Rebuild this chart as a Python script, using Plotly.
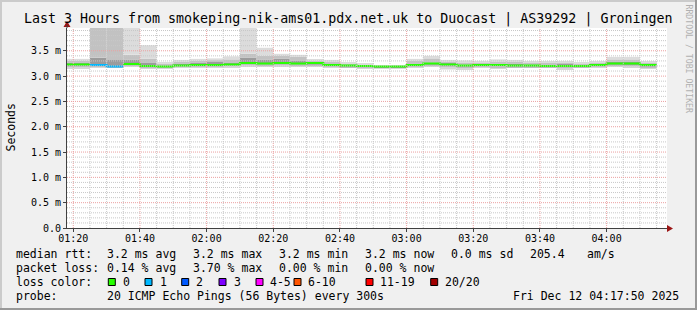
import plotly.graph_objects as go
import pandas as pd

# ---------------- data ----------------
DAY = "2025-12-12"
bin_start = ["01:15", "01:20", "01:25", "01:30", "01:35", "01:40", "01:45", "01:50", "01:55",
             "02:00", "02:05", "02:10", "02:15", "02:20", "02:25", "02:30", "02:35", "02:40",
             "02:45", "02:50", "02:55", "03:00", "03:05", "03:10", "03:15", "03:20", "03:25",
             "03:30", "03:35", "03:40", "03:45", "03:50", "03:55", "04:00", "04:05", "04:10"]

median_ms = [3.23, 3.23, 3.22, 3.19, 3.24, 3.20, 3.19, 3.21, 3.22, 3.22, 3.23, 3.26,
             3.25, 3.26, 3.25, 3.26, 3.22, 3.21, 3.20, 3.19, 3.19, 3.22, 3.25, 3.23,
             3.21, 3.22, 3.22, 3.21, 3.21, 3.20, 3.20, 3.20, 3.22, 3.25, 3.25, 3.22]
loss_count = [0, 0, 1, 1, 0, 0, 0, 0, 0, 0, 0, 0, 0, 0, 0, 0, 0, 0,
              0, 0, 0, 0, 0, 0, 0, 0, 0, 0, 0, 0, 0, 0, 0, 0, 0, 0]

smoke_max = [3.34, 3.34, 4.50, 4.50, 4.50, 3.61, 3.28, 3.32, 3.34, 3.35, 3.39, 4.50,
             3.56, 3.44, 3.42, 3.33, 3.32, 3.27, 3.25, 3.21, 3.21, 3.34, 3.40, 3.32,
             3.31, 3.30, 3.33, 3.32, 3.29, 3.29, 3.30, 3.27, 3.29, 3.38, 3.38, 3.29]
smoke_p90 = [3.30, 3.30, 4.50, 4.50, 3.42, 3.34, 3.24, 3.28, 3.30, 3.31, 3.33, 3.44,
             3.40, 3.40, 3.38, 3.31, 3.28, 3.25, 3.23, 3.20, 3.20, 3.30, 3.35, 3.29,
             3.27, 3.27, 3.29, 3.28, 3.26, 3.26, 3.27, 3.25, 3.27, 3.33, 3.33, 3.26]
smoke_p75 = [3.26, 3.26, 3.36, 3.32, 3.32, 3.26, 3.21, 3.24, 3.26, 3.28, 3.27, 3.36,
             3.32, 3.34, 3.31, 3.29, 3.25, 3.23, 3.21, 3.19, 3.19, 3.24, 3.27, 3.26,
             3.23, 3.25, 3.25, 3.24, 3.23, 3.23, 3.24, 3.22, 3.24, 3.28, 3.29, 3.24]
smoke_p25 = [3.21, 3.21, 3.21, 3.19, 3.22, 3.19, 3.18, 3.20, 3.21, 3.21, 3.22, 3.24,
             3.24, 3.24, 3.24, 3.23, 3.21, 3.19, 3.18, 3.17, 3.17, 3.20, 3.23, 3.21,
             3.19, 3.20, 3.20, 3.19, 3.19, 3.19, 3.18, 3.19, 3.20, 3.23, 3.22, 3.19]
smoke_p10 = [3.18, 3.18, 3.19, 3.17, 3.20, 3.17, 3.17, 3.18, 3.19, 3.19, 3.20, 3.22,
             3.21, 3.22, 3.21, 3.21, 3.19, 3.17, 3.16, 3.16, 3.16, 3.18, 3.21, 3.18,
             3.16, 3.18, 3.16, 3.17, 3.17, 3.17, 3.16, 3.17, 3.18, 3.21, 3.20, 3.17]
smoke_min = [3.15, 3.15, 3.17, 3.16, 3.18, 3.15, 3.15, 3.16, 3.16, 3.17, 3.17, 3.19,
             3.19, 3.19, 3.19, 3.19, 3.17, 3.16, 3.15, 3.15, 3.15, 3.17, 3.19, 3.13,
             3.12, 3.16, 3.15, 3.16, 3.16, 3.16, 3.13, 3.16, 3.17, 3.19, 3.17, 3.15]

x_tick_labels = ["01:20", "01:40", "02:00", "02:20", "02:40", "03:00", "03:20", "03:40", "04:00"]
y_tick_vals = [0.0, 0.5, 1.0, 1.5, 2.0, 2.5, 3.0, 3.5]
y_tick_text = ["0.0", "0.5 m", "1.0 m", "1.5 m", "2.0 m", "2.5 m", "3.0 m", "3.5 m"]

loss_labels = ["0", "1", "2", "3", "4-5", "6-10", "11-19", "20/20"]
loss_colors = ["#26ff00", "#00b8ff", "#0059ff", "#7e00ff", "#ff00ff", "#ff5500", "#ff0000", "#a10000"]

title_text = "Last 3 Hours from smokeping-nik-ams01.pdx.net.uk to Duocast | AS39292 | Groningen"
stats_rtt = ["median rtt:", "3.2 ms avg", "3.2 ms max", "3.2 ms min", "3.2 ms now", "0.0 ms sd", "205.4", "am/s"]
stats_loss = ["packet loss:", "0.14 % avg", "3.70 % max", "0.00 % min", "0.00 % now"]
probe_text = ["probe:", "20 ICMP Echo Pings (56 Bytes) every 300s", "Fri Dec 12 04:17:50 2025"]

# ---------------- layout constants ----------------
FIG_W, FIG_H = 697, 310
L, T, W, H = 67, 28, 600, 200
X_START = f"{DAY} 01:18:07"
X_END = f"{DAY} 04:18:07"
Y_MAX = 3.95
FONT = "DejaVu Sans Mono"
MINOR_GRID = "#c8c8c8"
MAJOR_GRID = "#eba0a0"
AXIS_COL = "#404040"
ARROW_COL = "#9b1515"


def px(xp):
    return (xp - L) / W


def py(yp):
    return 1 - (yp - T) / H


def loss_class(n):
    if n <= 3:
        return n
    if n <= 5:
        return 4
    if n <= 10:
        return 5
    if n <= 19:
        return 6
    return 7


starts = [pd.Timestamp(f"{DAY} {t}") for t in bin_start]
ends = [s + pd.Timedelta(minutes=5) for s in starts]

fig = go.Figure()

# smoke bands
bands = [
    (smoke_min, smoke_p10, "#d6d6d6"),
    (smoke_p10, smoke_p25, "#bdbdbd"),
    (smoke_p25, smoke_p75, "#9c9c9c"),
    (smoke_p75, smoke_p90, "#c2c2c2"),
    (smoke_p90, smoke_max, "#dcdcdc"),
]
for lo, hi, col in bands:
    fig.add_trace(go.Bar(
        x=starts, y=[h - l for l, h in zip(lo, hi)], base=lo,
        width=300000, offset=0,
        marker=dict(color=col, line=dict(width=0)),
        hoverinfo="skip",
    ))

# median line, coloured by loss class
for ci, col in enumerate(loss_colors):
    xs, ys = [], []
    i = 0
    n = len(starts)
    while i < n:
        if loss_class(loss_count[i]) != ci:
            i += 1
            continue
        j = i
        while j < n and loss_class(loss_count[j]) == ci:
            xs.append(starts[j])
            ys.append(median_ms[j])
            j += 1
        xs.append(ends[j - 1])
        ys.append(median_ms[j - 1])
        xs.append(None)
        ys.append(None)
        i = j
    if xs:
        fig.add_trace(go.Scatter(x=xs, y=ys, mode="lines", line=dict(color=col, width=2, shape="hv"),
                                 hoverinfo="skip", connectgaps=False))

shapes = []
# grid on top (as rrdtool draws it)
major_ts = [pd.Timestamp(f"{DAY} {t}") for t in x_tick_labels]
x0, x1 = pd.Timestamp(X_START), pd.Timestamp(X_END)
for t in starts + [ends[-1]]:
    if x0 < t < x1 and t not in major_ts:
        shapes.append(dict(type="line", xref="x", yref="paper", x0=t, x1=t, y0=0, y1=1, layer="above",
                           line=dict(color=MINOR_GRID, width=1, dash="1px,1px")))
for t in major_ts:
    shapes.append(dict(type="line", xref="x", yref="paper", x0=t, x1=t, y0=0, y1=1, layer="above",
                       line=dict(color=MAJOR_GRID, width=1, dash="1px,1px")))
k = 1
while k / 10 < Y_MAX:
    v = k / 10
    is_major = k % 5 == 0
    shapes.append(dict(type="line", xref="paper", yref="y", x0=0, x1=1, y0=v, y1=v, layer="above",
                       line=dict(color=MAJOR_GRID if is_major else MINOR_GRID, width=1, dash="1px,1px")))
    k += 1

# arrows
shapes.append(dict(type="path", xref="paper", yref="paper", layer="above",
                   path=f"M {px(667)} {py(225)} L {px(673)} {py(228.5)} L {px(667)} {py(232)} Z",
                   fillcolor=ARROW_COL, line=dict(width=0)))
shapes.append(dict(type="path", xref="paper", yref="paper", layer="above",
                   path=f"M {px(63.5)} {py(27)} L {px(67)} {py(21)} L {px(70.5)} {py(27)} Z",
                   fillcolor=ARROW_COL, line=dict(width=0)))
shapes.append(dict(type="line", xref="paper", yref="paper", layer="above",
                   x0=px(67), x1=px(67), y0=py(28), y1=py(25), line=dict(color=AXIS_COL, width=1)))

# frame (3D border)
shapes.append(dict(type="rect", xref="paper", yref="paper", x0=px(0), x1=px(697), y0=py(0), y1=py(2),
                   fillcolor="#cbcbcb", line=dict(width=0), layer="above"))
shapes.append(dict(type="rect", xref="paper", yref="paper", x0=px(0), x1=px(2), y0=py(0), y1=py(310),
                   fillcolor="#cbcbcb", line=dict(width=0), layer="above"))
shapes.append(dict(type="rect", xref="paper", yref="paper", x0=px(0), x1=px(697), y0=py(308), y1=py(310),
                   fillcolor="#999999", line=dict(width=0), layer="above"))
shapes.append(dict(type="rect", xref="paper", yref="paper", x0=px(695), x1=px(697), y0=py(0), y1=py(310),
                   fillcolor="#999999", line=dict(width=0), layer="above"))

# loss colour swatches
swatch_x = [108.3, 145.0, 181.7, 219.0, 256.0, 294.0, 366.0, 430.7]
swatch_text_x = [123.0, 159.7, 196.4, 233.7, 270.0, 308.0, 380.0, 445.0]
for sx, col in zip(swatch_x, loss_colors):
    shapes.append(dict(type="rect", xref="paper", yref="paper", layer="above",
                       x0=px(sx), x1=px(sx + 7), y0=py(278.5), y1=py(285.5),
                       fillcolor=col, line=dict(color="#000000", width=1)))

annotations = []


def txt(xp, yp, s, size=11.5, anchor="left", color="#000000", angle=0):
    annotations.append(dict(xref="paper", yref="paper", x=px(xp), y=py(yp), text=s, showarrow=False,
                            xanchor=anchor, yanchor="middle", textangle=angle,
                            borderpad=0, borderwidth=0,
                            font=dict(family=FONT, size=size, color=color)))


txt(348, 18.7, title_text, size=13.3, anchor="center")
txt(10.5, 128, "Seconds", size=11.5, anchor="center", angle=-90)
txt(688.5, 59, "RRDTOOL / TOBI OETIKER", size=8.2, anchor="center", color="#b0b0b0", angle=90)

rtt_x = [16, 107.3, 192.7, 279.3, 365, 451, 530, 586.7]
for xp, s in zip(rtt_x, stats_rtt):
    txt(xp, 253.8, s)
loss_x = [16, 107.3, 192.7, 279.3, 365]
for xp, s in zip(loss_x, stats_loss):
    txt(xp, 267.8, s)
txt(16, 281.8, "loss color:")
for xp, s in zip(swatch_text_x, loss_labels):
    txt(xp, 281.8, s)
probe_x = [16, 107.3, 513.3]
for xp, s in zip(probe_x, probe_text):
    txt(xp, 295.8, s)

fig.update_layout(
    width=FIG_W, height=FIG_H,
    margin=dict(l=L, r=FIG_W - L - W, t=T, b=FIG_H - T - H, autoexpand=False),
    paper_bgcolor="#f0f0f0", plot_bgcolor="#ffffff",
    barmode="overlay", showlegend=False,
    font=dict(family=FONT, size=10, color="#000000"),
    shapes=shapes, annotations=annotations,
)
fig.update_xaxes(
    type="date", range=[X_START, X_END],
    tickvals=major_ts, ticktext=x_tick_labels,
    showgrid=False, zeroline=False, showline=True, linecolor=AXIS_COL, linewidth=1,
    ticks="outside", ticklen=3, tickcolor=AXIS_COL, tickfont=dict(family=FONT, size=10),
    ticklabelstandoff=-2,
    fixedrange=True,
)
fig.update_yaxes(
    range=[0, Y_MAX], tickvals=y_tick_vals, ticktext=y_tick_text,
    showgrid=False, zeroline=False, showline=True, linecolor=AXIS_COL, linewidth=1,
    ticks="outside", ticklen=3, tickcolor=AXIS_COL, tickfont=dict(family=FONT, size=10),
    fixedrange=True,
)

fig.write_html("out.html", config={"displayModeBar": False})
